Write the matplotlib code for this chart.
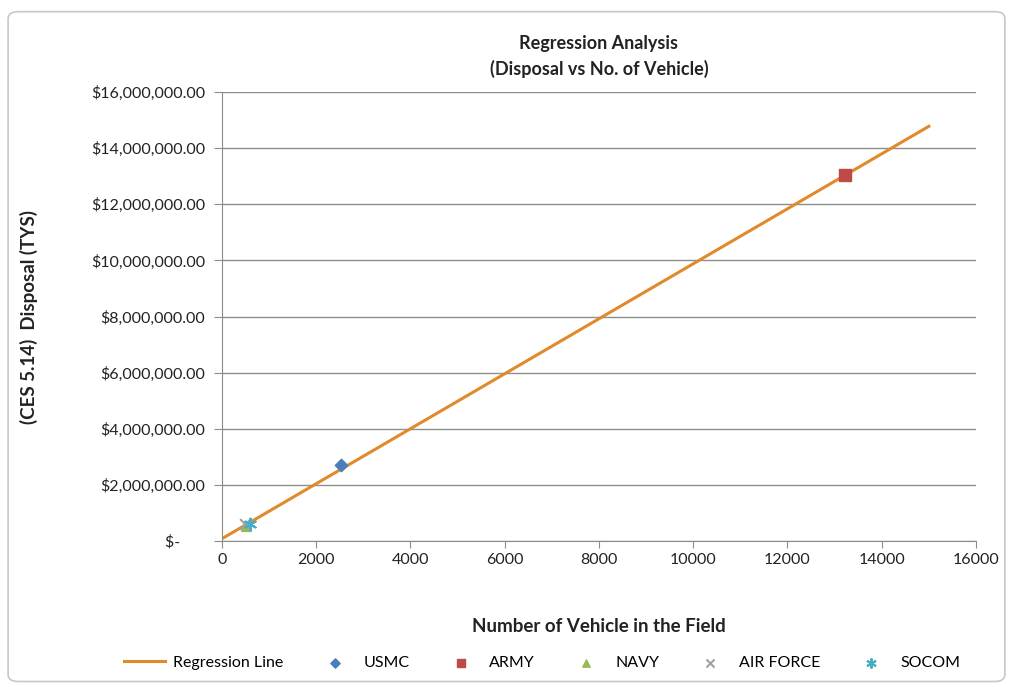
import matplotlib
matplotlib.use("Agg")
import matplotlib.pyplot as plt
from matplotlib.patches import FancyBboxPatch
from matplotlib.ticker import FuncFormatter

plt.rcParams['font.family'] = ['Lato', 'DejaVu Sans']

# Data
reg_x = [0, 15000]
reg_y = [80000, 14780000]
services = ["USMC", "ARMY", "NAVY", "AIR FORCE", "SOCOM"]
svc_x = [2520, 13220, 520, 500, 600]
svc_y = [2720000, 13050000, 530000, 600000, 620000]
markers = ["D", "s", "^", "x", (6, 2, 0)]
colors = ["#4a7ebb", "#be4b48", "#98b954", "#a0a0a0", "#4bacc6"]
sizes = [40, 70, 50, 60, 70]
yticks = list(range(0, 16000001, 2000000))
xticks = list(range(0, 16001, 2000))

fig = plt.figure(figsize=(10.13, 6.87), dpi=100)
border = FancyBboxPatch((0.008, 0.008), 0.984, 0.975, boxstyle="round,pad=0,rounding_size=0.01",
                        transform=fig.transFigure, facecolor="none", edgecolor="#c8c8c8", lw=1.2,
                        zorder=-5)
fig.patches.append(border)

ax = fig.add_axes([0.219, 0.2125, 0.7445, 0.6535])
ax.plot(reg_x, reg_y, color="#e08a2c", lw=2.2, label="Regression Line", zorder=2)
for name, x, y, m, c, s in zip(services, svc_x, svc_y, markers, colors, sizes):
    ax.scatter([x], [y], marker=m, color=c, s=s, label=name, zorder=3)

ax.set_xlim(0, 16000)
ax.set_ylim(0, 16000000)
ax.set_xticks(xticks)
ax.set_yticks(yticks)

def yfmt(v, pos):
    if v == 0:
        return "$-      "
    return "${:,.2f}".format(v)
ax.yaxis.set_major_formatter(FuncFormatter(yfmt))
ax.grid(axis="y", color="#8c8c8c", lw=1)
ax.set_axisbelow(True)
for sp in ["top", "right"]:
    ax.spines[sp].set_visible(False)
for sp in ["left", "bottom"]:
    ax.spines[sp].set_color("#8c8c8c")
ax.tick_params(axis="both", colors="#8c8c8c", labelcolor="#222222", labelsize=11.5, length=5)
ax.tick_params(axis="y", length=6, pad=6)

ax.set_title("Regression Analysis\n(Disposal vs No. of Vehicle)", fontsize=13, fontweight="bold",
             color="#222222", pad=12, linespacing=1.55)
ax.set_xlabel("Number of Vehicle in the Field", fontsize=13.5, fontweight="bold", color="#222222", labelpad=37)
ax.set_ylabel("(CES 5.14)  Disposal (TYS)", fontsize=13.5, fontweight="bold", color="#222222", labelpad=38)

leg = fig.legend(loc="center", bbox_to_anchor=(0.535, 0.035), ncol=6, frameon=False, fontsize=11.5,
                 handlelength=2.6, columnspacing=1.9, handletextpad=0.5, markerscale=0.75)

fig.savefig("out.png", dpi=100, facecolor="white")
